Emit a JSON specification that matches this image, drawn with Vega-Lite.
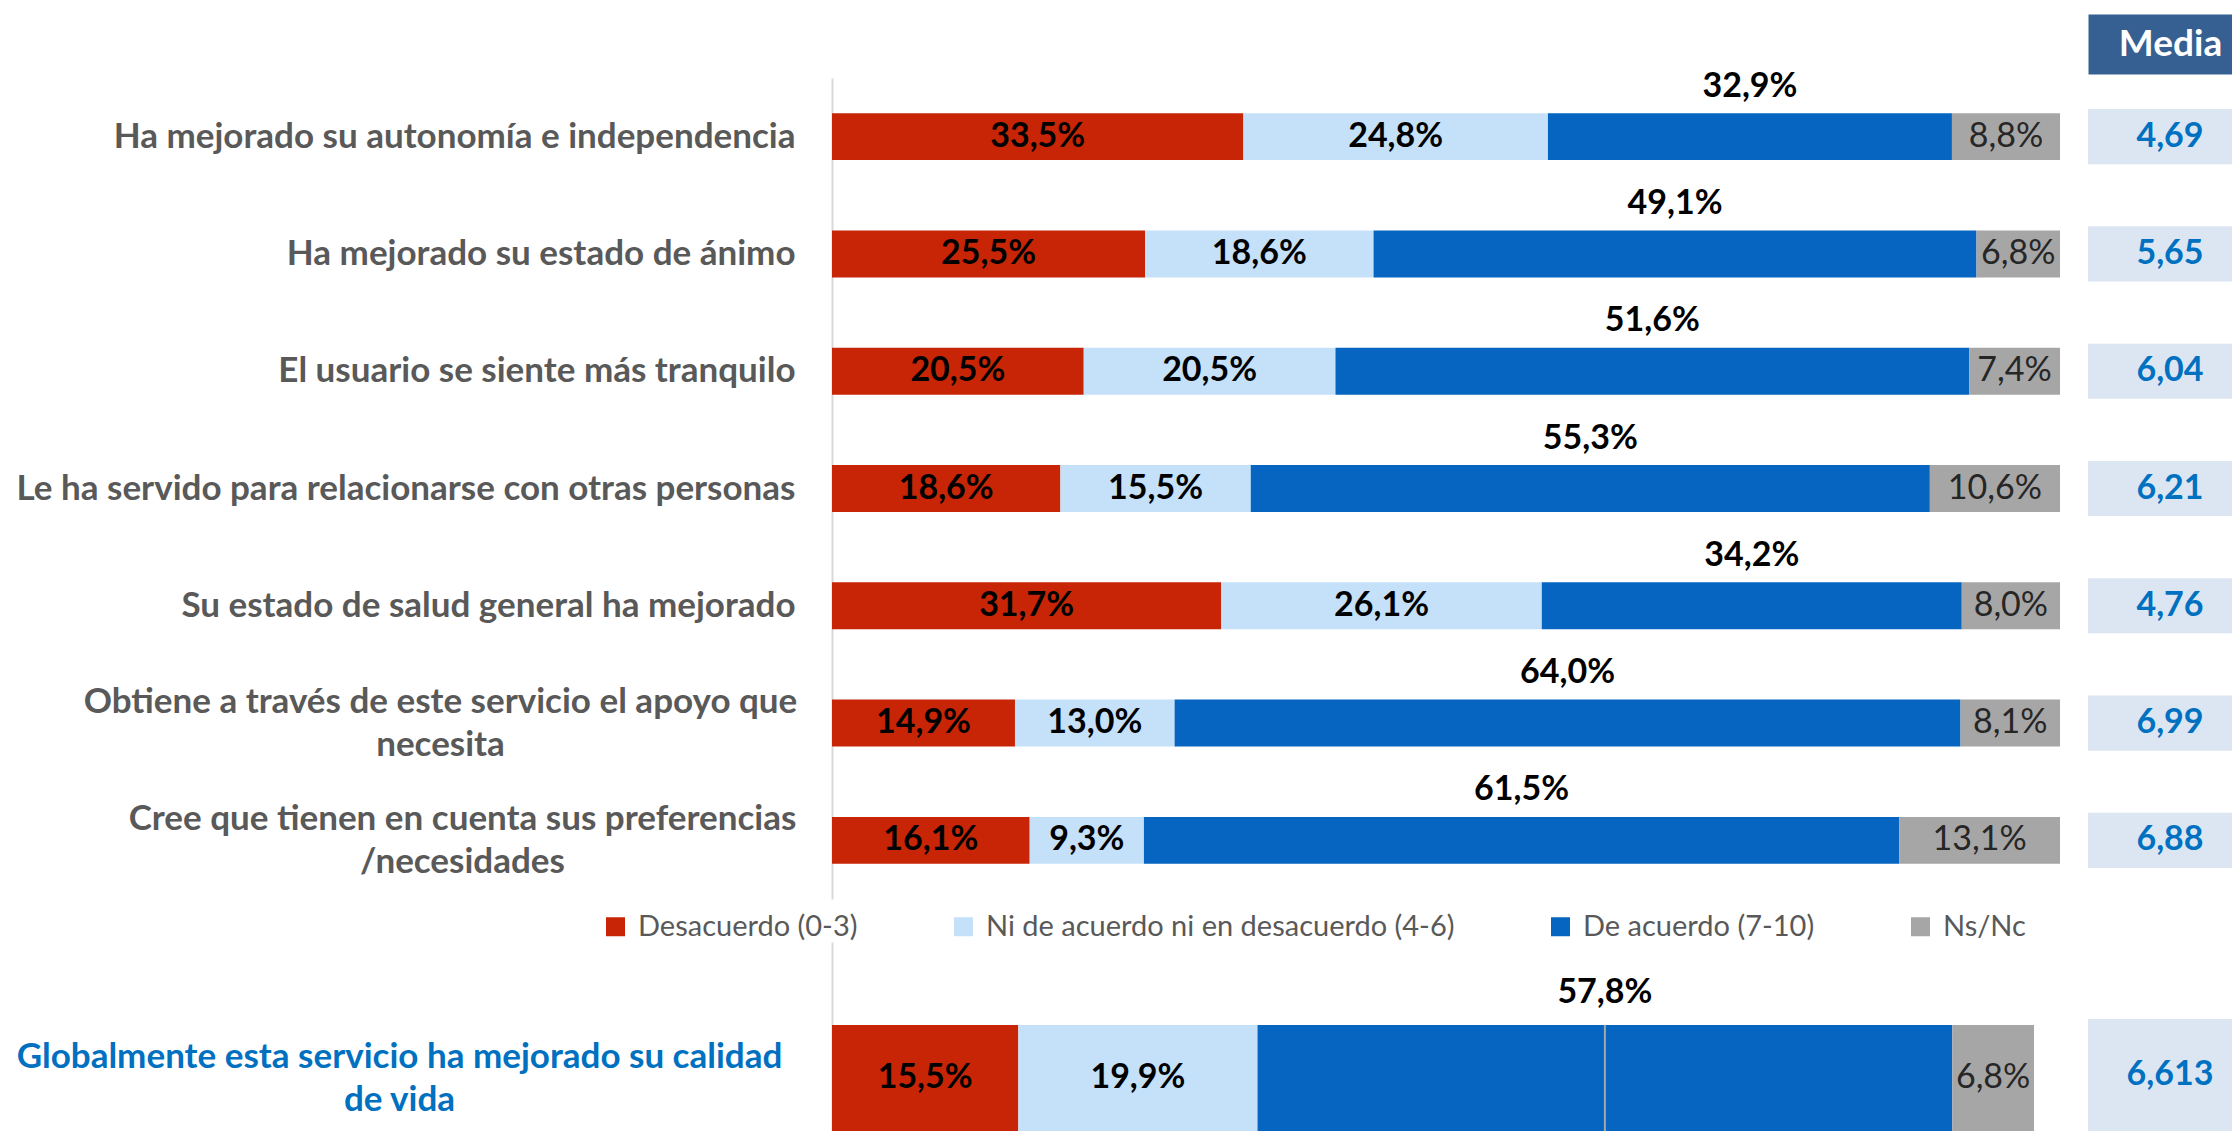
{
  "$schema": "https://vega.github.io/schema/vega-lite/v6.json",
  "background": "white",
  "padding": {"left": 16, "top": 25, "right": 0, "bottom": 0},
  "config": {
    "locale": {"number": {"decimal": ",", "thousands": ".", "grouping": [3], "currency": ["", " €"]}},
    "view": {"stroke": null},
    "font": "Lato",
    "text": {"font": "Lato"}
  },
  "datasets": {
    "items": [
      {"q": "Ha mejorado su autonomía e independencia", "cat": "Desacuerdo (0-3)", "k": 1, "p": 0.335},
      {"q": "Ha mejorado su autonomía e independencia", "cat": "Ni de acuerdo ni en desacuerdo (4-6)", "k": 2, "p": 0.248},
      {"q": "Ha mejorado su autonomía e independencia", "cat": "De acuerdo (7-10)", "k": 3, "p": 0.329},
      {"q": "Ha mejorado su autonomía e independencia", "cat": "Ns/Nc", "k": 4, "p": 0.088},
      {"q": "Ha mejorado su estado de ánimo", "cat": "Desacuerdo (0-3)", "k": 1, "p": 0.255},
      {"q": "Ha mejorado su estado de ánimo", "cat": "Ni de acuerdo ni en desacuerdo (4-6)", "k": 2, "p": 0.186},
      {"q": "Ha mejorado su estado de ánimo", "cat": "De acuerdo (7-10)", "k": 3, "p": 0.491},
      {"q": "Ha mejorado su estado de ánimo", "cat": "Ns/Nc", "k": 4, "p": 0.068},
      {"q": "El usuario se siente más tranquilo", "cat": "Desacuerdo (0-3)", "k": 1, "p": 0.205},
      {"q": "El usuario se siente más tranquilo", "cat": "Ni de acuerdo ni en desacuerdo (4-6)", "k": 2, "p": 0.205},
      {"q": "El usuario se siente más tranquilo", "cat": "De acuerdo (7-10)", "k": 3, "p": 0.516},
      {"q": "El usuario se siente más tranquilo", "cat": "Ns/Nc", "k": 4, "p": 0.074},
      {"q": "Le ha servido para relacionarse con otras personas", "cat": "Desacuerdo (0-3)", "k": 1, "p": 0.186},
      {"q": "Le ha servido para relacionarse con otras personas", "cat": "Ni de acuerdo ni en desacuerdo (4-6)", "k": 2, "p": 0.155},
      {"q": "Le ha servido para relacionarse con otras personas", "cat": "De acuerdo (7-10)", "k": 3, "p": 0.553},
      {"q": "Le ha servido para relacionarse con otras personas", "cat": "Ns/Nc", "k": 4, "p": 0.106},
      {"q": "Su estado de salud general ha mejorado", "cat": "Desacuerdo (0-3)", "k": 1, "p": 0.317},
      {"q": "Su estado de salud general ha mejorado", "cat": "Ni de acuerdo ni en desacuerdo (4-6)", "k": 2, "p": 0.261},
      {"q": "Su estado de salud general ha mejorado", "cat": "De acuerdo (7-10)", "k": 3, "p": 0.342},
      {"q": "Su estado de salud general ha mejorado", "cat": "Ns/Nc", "k": 4, "p": 0.080},
      {"q": "Obtiene a través de este servicio el apoyo que\nnecesita", "cat": "Desacuerdo (0-3)", "k": 1, "p": 0.149},
      {"q": "Obtiene a través de este servicio el apoyo que\nnecesita", "cat": "Ni de acuerdo ni en desacuerdo (4-6)", "k": 2, "p": 0.130},
      {"q": "Obtiene a través de este servicio el apoyo que\nnecesita", "cat": "De acuerdo (7-10)", "k": 3, "p": 0.640},
      {"q": "Obtiene a través de este servicio el apoyo que\nnecesita", "cat": "Ns/Nc", "k": 4, "p": 0.081},
      {"q": "Cree que tienen en cuenta sus preferencias\n/necesidades", "cat": "Desacuerdo (0-3)", "k": 1, "p": 0.161},
      {"q": "Cree que tienen en cuenta sus preferencias\n/necesidades", "cat": "Ni de acuerdo ni en desacuerdo (4-6)", "k": 2, "p": 0.093},
      {"q": "Cree que tienen en cuenta sus preferencias\n/necesidades", "cat": "De acuerdo (7-10)", "k": 3, "p": 0.615},
      {"q": "Cree que tienen en cuenta sus preferencias\n/necesidades", "cat": "Ns/Nc", "k": 4, "p": 0.131}
    ],
    "media": [
      {"q": "Ha mejorado su autonomía e independencia", "m": 4.69},
      {"q": "Ha mejorado su estado de ánimo", "m": 5.65},
      {"q": "El usuario se siente más tranquilo", "m": 6.04},
      {"q": "Le ha servido para relacionarse con otras personas", "m": 6.21},
      {"q": "Su estado de salud general ha mejorado", "m": 4.76},
      {"q": "Obtiene a través de este servicio el apoyo que\nnecesita", "m": 6.99},
      {"q": "Cree que tienen en cuenta sus preferencias\n/necesidades", "m": 6.88}
    ],
    "glob": [
      {"q": "Globalmente esta servicio ha mejorado su calidad\nde vida", "cat": "Desacuerdo (0-3)", "k": 1, "p": 0.155},
      {"q": "Globalmente esta servicio ha mejorado su calidad\nde vida", "cat": "Ni de acuerdo ni en desacuerdo (4-6)", "k": 2, "p": 0.199},
      {"q": "Globalmente esta servicio ha mejorado su calidad\nde vida", "cat": "De acuerdo (7-10)", "k": 3, "p": 0.578},
      {"q": "Globalmente esta servicio ha mejorado su calidad\nde vida", "cat": "Ns/Nc", "k": 4, "p": 0.068}
    ],
    "gmedia": [
      {"q": "Globalmente esta servicio ha mejorado su calidad\nde vida", "m": 6.613}
    ]
  },
  "columns": 2,
  "spacing": {"row": 43, "column": 28},
  "bounds": "flush",
  "resolve": {
    "scale": {"x": "independent", "y": "independent", "color": "independent"},
    "legend": {"color": "independent"}
  },
  "concat": [
    {
      "width": 1228,
      "height": 821,
      "data": {"name": "items"},
      "encoding": {
        "y": {
          "field": "q", "type": "nominal", "sort": null, "title": null,
          "scale": {"paddingInner": 0.6, "paddingOuter": 0.3},
          "axis": {
            "domain": true, "domainColor": "#D9D9D9", "domainWidth": 2,
            "ticks": false, "tickSize": 0,
            "labelFont": "Lato", "labelFontSize": 35, "labelFontWeight": "bold",
            "labelColor": "#595959", "labelLimit": 0, "labelLineHeight": 43,
            "labelBaseline": "middle",
            "labelExpr": "split(datum.label, '\\n')",
            "labelAlign": {"condition": {"test": "indexof(datum.value, '\\n') >= 0", "value": "center"}, "value": "right"},
            "labelOffset": {"condition": {"test": "indexof(datum.value, '\\n') >= 0", "value": -21}, "value": 0},
            "labelPadding": {"condition": [
              {"test": "indexof(datum.value, 'Obtiene') == 0", "value": 392},
              {"test": "indexof(datum.value, 'Cree') == 0", "value": 370}
            ], "value": 37}
          }
        }
      },
      "layer": [
        {
          "mark": {"type": "bar"},
          "encoding": {
            "x": {"field": "p", "type": "quantitative", "stack": "zero", "scale": {"domain": [0, 1]}, "axis": null},
            "color": {
              "field": "cat", "type": "nominal",
              "scale": {
                "domain": ["Desacuerdo (0-3)", "Ni de acuerdo ni en desacuerdo (4-6)", "De acuerdo (7-10)", "Ns/Nc"],
                "range": ["#C82506", "#C5E0F9", "#0565C0", "#A6A6A6"]
              },
              "legend": {
                "orient": "none", "legendX": -231, "legendY": 834,
                "direction": "horizontal", "title": null,
                "symbolType": "square", "symbolSize": 361, "symbolStrokeWidth": 0, "symbolOpacity": 1,
                "labelFont": "Lato", "labelFontSize": 29, "labelColor": "#595959",
                "labelOffset": 8, "columnPadding": 91, "labelLimit": 0
              }
            },
            "order": {"field": "k"}
          }
        },
        {
          "mark": {"type": "text", "fontSize": 34, "fontWeight": "bold", "color": "#000000", "baseline": "middle"},
          "encoding": {
            "x": {"field": "p", "type": "quantitative", "stack": "zero", "bandPosition": 0.5},
            "detail": {"field": "cat"},
            "order": {"field": "k"},
            "text": {"condition": {"test": "datum.k <= 2", "field": "p", "type": "quantitative", "format": ".1%"}, "value": ""}
          }
        },
        {
          "mark": {"type": "text", "fontSize": 34, "fontWeight": "bold", "color": "#000000", "baseline": "middle", "dy": -50},
          "encoding": {
            "x": {"field": "p", "type": "quantitative", "stack": "zero", "bandPosition": 0.5},
            "detail": {"field": "cat"},
            "order": {"field": "k"},
            "text": {"condition": {"test": "datum.k == 3", "field": "p", "type": "quantitative", "format": ".1%"}, "value": ""}
          }
        },
        {
          "mark": {"type": "text", "fontSize": 34, "fontWeight": "normal", "color": "#262626", "baseline": "middle"},
          "encoding": {
            "x": {"field": "p", "type": "quantitative", "stack": "zero", "bandPosition": 0.5},
            "detail": {"field": "cat"},
            "order": {"field": "k"},
            "text": {"condition": {"test": "datum.k == 4", "field": "p", "type": "quantitative", "format": ".1%"}, "value": ""}
          }
        }
      ]
    },
    {
      "width": 144,
      "height": 821,
      "data": {"name": "media"},
      "encoding": {
        "y": {"field": "q", "type": "nominal", "sort": null, "axis": null, "scale": {"paddingInner": 0.53, "paddingOuter": 0.265}}
      },
      "layer": [
        {"mark": {"type": "rect", "color": "#DCE6F2"}},
        {
          "mark": {"type": "text", "fontSize": 34, "fontWeight": "bold", "color": "#0070C0", "baseline": "middle", "dx": 10},
          "encoding": {
            "x": {
              "datum": "Media", "type": "nominal",
              "axis": {
                "orient": "top", "title": "Media", "ticks": false, "tickSize": 0, "labels": false,
                "domainColor": "#376092", "domainWidth": 60, "offset": 34,
                "titleX": 82, "titleY": 0, "titleAlign": "center", "titleBaseline": "middle", "titleAngle": 0,
                "titleColor": "#FFFFFF", "titleFont": "Lato", "titleFontSize": 37, "titleFontWeight": "bold"
              }
            },
            "text": {"field": "m", "type": "quantitative", "format": ".2f"}
          }
        }
      ]
    },
    {
      "width": 1202,
      "height": 189,
      "data": {"name": "glob"},
      "encoding": {
        "y": {
          "field": "q", "type": "nominal", "sort": null, "title": null,
          "scale": {"paddingInner": 0, "paddingOuter": 0.392, "align": 1},
          "axis": {
            "domain": true, "domainColor": "#D9D9D9", "domainWidth": 2,
            "ticks": false, "tickSize": 0,
            "labelFont": "Lato", "labelFontSize": 35, "labelFontWeight": "bold",
            "labelColor": "#0070C0", "labelLimit": 0, "labelLineHeight": 43,
            "labelBaseline": "middle", "labelAlign": "center", "labelPadding": 433,
            "labelOffset": -21,
            "labelExpr": "split(datum.label, '\\n')"
          }
        }
      },
      "layer": [
        {
          "mark": {"type": "bar"},
          "encoding": {
            "x": {"field": "p", "type": "quantitative", "stack": "zero", "scale": {"domain": [0, 1]}, "axis": null},
            "color": {
              "field": "cat", "type": "nominal",
              "scale": {
                "domain": ["Desacuerdo (0-3)", "Ni de acuerdo ni en desacuerdo (4-6)", "De acuerdo (7-10)", "Ns/Nc"],
                "range": ["#C82506", "#C5E0F9", "#0565C0", "#A6A6A6"]
              },
              "legend": null
            },
            "order": {"field": "k"}
          }
        },
        {
          "mark": {"type": "tick", "color": "#A6A6A6", "thickness": 2, "size": 106},
          "encoding": {
            "x": {"field": "p", "type": "quantitative", "stack": "zero", "bandPosition": 0.5},
            "detail": {"field": "cat"},
            "order": {"field": "k"},
            "opacity": {"condition": {"test": "datum.k == 3", "value": 1}, "value": 0}
          }
        },
        {
          "mark": {"type": "text", "fontSize": 34, "fontWeight": "bold", "color": "#000000", "baseline": "middle"},
          "encoding": {
            "x": {"field": "p", "type": "quantitative", "stack": "zero", "bandPosition": 0.5},
            "detail": {"field": "cat"},
            "order": {"field": "k"},
            "text": {"condition": {"test": "datum.k <= 2", "field": "p", "type": "quantitative", "format": ".1%"}, "value": ""}
          }
        },
        {
          "mark": {"type": "text", "fontSize": 34, "fontWeight": "bold", "color": "#000000", "baseline": "middle", "dy": -85},
          "encoding": {
            "x": {"field": "p", "type": "quantitative", "stack": "zero", "bandPosition": 0.5},
            "detail": {"field": "cat"},
            "order": {"field": "k"},
            "text": {"condition": {"test": "datum.k == 3", "field": "p", "type": "quantitative", "format": ".1%"}, "value": ""}
          }
        },
        {
          "mark": {"type": "text", "fontSize": 34, "fontWeight": "normal", "color": "#262626", "baseline": "middle"},
          "encoding": {
            "x": {"field": "p", "type": "quantitative", "stack": "zero", "bandPosition": 0.5},
            "detail": {"field": "cat"},
            "order": {"field": "k"},
            "text": {"condition": {"test": "datum.k == 4", "field": "p", "type": "quantitative", "format": ".1%"}, "value": ""}
          }
        }
      ]
    },
    {
      "width": 144,
      "height": 189,
      "data": {"name": "gmedia"},
      "encoding": {
        "y": {"field": "q", "type": "nominal", "sort": null, "axis": null, "scale": {"paddingInner": 0, "paddingOuter": 0.344, "align": 1}}
      },
      "layer": [
        {"mark": {"type": "rect", "color": "#DCE6F2"}},
        {
          "mark": {"type": "text", "fontSize": 34, "fontWeight": "bold", "color": "#0070C0", "baseline": "middle", "dx": 10},
          "encoding": {
            "x": {"datum": "Media", "type": "nominal", "axis": null},
            "text": {"field": "m", "type": "quantitative", "format": ".3f"}
          }
        }
      ]
    }
  ]
}
